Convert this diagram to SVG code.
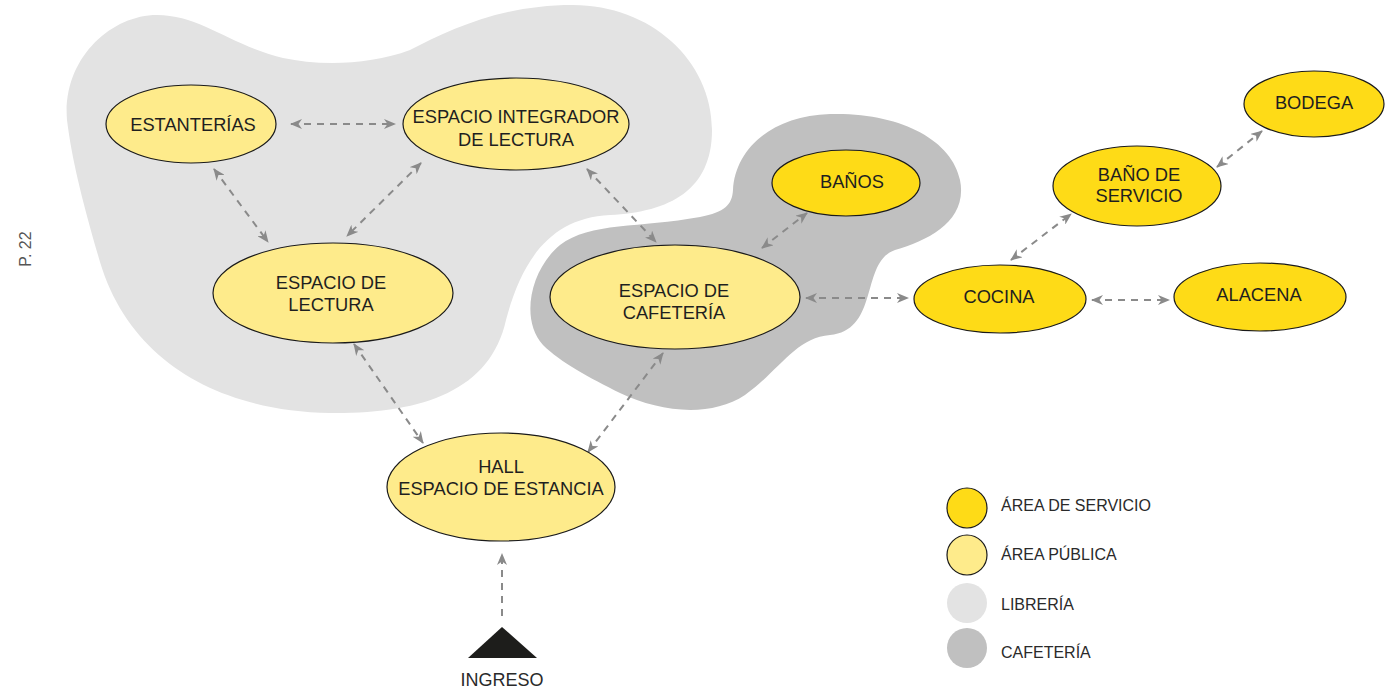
<svg xmlns="http://www.w3.org/2000/svg" width="1385" height="690" viewBox="0 0 1385 690">
<style>
.node{stroke:#1a1a1a;stroke-width:1.2}
.pub{fill:#FEEB8B}
.srv{fill:#FEDB17}
.lbl{font-family:"Liberation Sans",Arial,sans-serif;font-size:18.3px;fill:#1f1f1f;text-anchor:middle}
.leg{font-family:"Liberation Sans",Arial,sans-serif;font-size:16px;fill:#2a2a2a}
.con{fill:none;stroke:#8a8a8a;stroke-width:2;stroke-dasharray:7 6;marker-start:url(#ah);marker-end:url(#ah)}
</style>
<defs>
<marker id="ah" viewBox="0 0 12 10" refX="11" refY="5" markerWidth="12" markerHeight="10" markerUnits="userSpaceOnUse" orient="auto-start-reverse">
<path d="M0,0 L12,5 L0,10 L3.5,5 Z" fill="#8a8a8a"/>
</marker>
</defs>
<rect width="1385" height="690" fill="#ffffff"/>
<g id="zonas">
<path id="libreria" fill="#E3E3E3" d="M67,120 C62,60 110,15 157,15 C200,15 230,45 283,58 C320,66 370,65 410,50 C450,30 500,5 573,5 C650,5 712,60 712,130 C712,190 670,212 610,215 C550,218 522,260 506,320 C490,392 420,414 330,413 C220,411 130,362 100,262 C82,200 72,160 67,120 Z"/>
<path id="cafeteria" fill="#C0C0C0" d="M733,190 C735,150 770,116 830,114 C900,112 952,140 960,180 C968,220 930,240 895,250 C860,262 880,330 830,335 C795,338 780,370 745,395 C710,418 660,412 620,393 C590,378 560,362 543,345 C520,320 530,270 560,245 C590,222 640,228 700,217 C725,212 732,205 733,190 Z"/>
</g>
<g id="conectores">
<line class="con" x1="291" y1="124" x2="395" y2="124"/>
<line class="con" x1="214" y1="169" x2="268" y2="242"/>
<line class="con" x1="421" y1="163" x2="347" y2="236"/>
<line class="con" x1="587" y1="169" x2="656" y2="242"/>
<line class="con" x1="354" y1="344" x2="423" y2="443"/>
<line class="con" x1="663" y1="353" x2="588" y2="452"/>
<line class="con" x1="762" y1="248" x2="807" y2="213"/>
<line class="con" x1="806" y1="298" x2="908" y2="298"/>
<line class="con" x1="1011" y1="260" x2="1071" y2="214"/>
<line class="con" x1="1217" y1="167" x2="1262" y2="131"/>
<line class="con" x1="1092" y1="300" x2="1169" y2="300"/>
<line fill="none" stroke="#8a8a8a" stroke-width="2" stroke-dasharray="7 6" marker-end="url(#ah)" x1="502" y1="616" x2="502" y2="554"/>
</g>
<g id="estanterias">
<ellipse class="node pub" cx="191" cy="124" rx="85" ry="39"/>
<text class="lbl" x="193" y="131">ESTANTERÍAS</text>
</g>
<g id="integrador">
<ellipse class="node pub" cx="516" cy="124" rx="113" ry="46"/>
<text class="lbl" x="516" y="123">ESPACIO INTEGRADOR</text>
<text class="lbl" x="516" y="146">DE LECTURA</text>
</g>
<g id="lectura">
<ellipse class="node pub" cx="333" cy="293" rx="120" ry="50"/>
<text class="lbl" x="331" y="289">ESPACIO DE</text>
<text class="lbl" x="331" y="311">LECTURA</text>
</g>
<g id="cafeteria-node">
<ellipse class="node pub" cx="675" cy="297" rx="125" ry="52"/>
<text class="lbl" x="674" y="297">ESPACIO DE</text>
<text class="lbl" x="674" y="319">CAFETERÍA</text>
</g>
<g id="banos">
<ellipse class="node srv" cx="846" cy="183" rx="74" ry="33"/>
<text class="lbl" x="852" y="188">BAÑOS</text>
</g>
<g id="bano-servicio">
<ellipse class="node srv" cx="1137" cy="186" rx="84" ry="40"/>
<text class="lbl" x="1139" y="181">BAÑO DE</text>
<text class="lbl" x="1139" y="202">SERVICIO</text>
</g>
<g id="bodega">
<ellipse class="node srv" cx="1314" cy="104" rx="70" ry="33"/>
<text class="lbl" x="1314" y="109">BODEGA</text>
</g>
<g id="cocina">
<ellipse class="node srv" cx="1000" cy="299" rx="86" ry="34"/>
<text class="lbl" x="999" y="303">COCINA</text>
</g>
<g id="alacena">
<ellipse class="node srv" cx="1260" cy="297" rx="86" ry="34"/>
<text class="lbl" x="1259" y="301">ALACENA</text>
</g>
<g id="hall">
<ellipse class="node pub" cx="501" cy="487" rx="114" ry="54"/>
<text class="lbl" x="501" y="473">HALL</text>
<text class="lbl" x="501" y="495">ESPACIO DE ESTANCIA</text>
</g>
<g id="ingreso">
<polygon points="502,627 468,658 537,658" fill="#1d1d1b"/>
<text class="leg" x="502" y="686" text-anchor="middle" style="font-size:18px">INGRESO</text>
</g>
<g id="leyenda">
<circle cx="967" cy="508" r="20" fill="#FEDB17" stroke="#1a1a1a" stroke-width="1.2"/>
<text class="leg" x="1001" y="511">ÁREA DE SERVICIO</text>
<circle cx="967" cy="555" r="20" fill="#FEEB8B" stroke="#1a1a1a" stroke-width="1.2"/>
<text class="leg" x="1001" y="560">ÁREA PÚBLICA</text>
<circle cx="967" cy="603" r="20" fill="#E3E3E3"/>
<text class="leg" x="1001" y="610">LIBRERÍA</text>
<circle cx="967" cy="648" r="20" fill="#C0C0C0"/>
<text class="leg" x="1001" y="658">CAFETERÍA</text>
</g>
<text x="0" y="0" transform="translate(31,249) rotate(-90)" text-anchor="middle" font-family="'Liberation Sans',Arial,sans-serif" font-size="16" fill="#555555">P. 22</text>
</svg>
